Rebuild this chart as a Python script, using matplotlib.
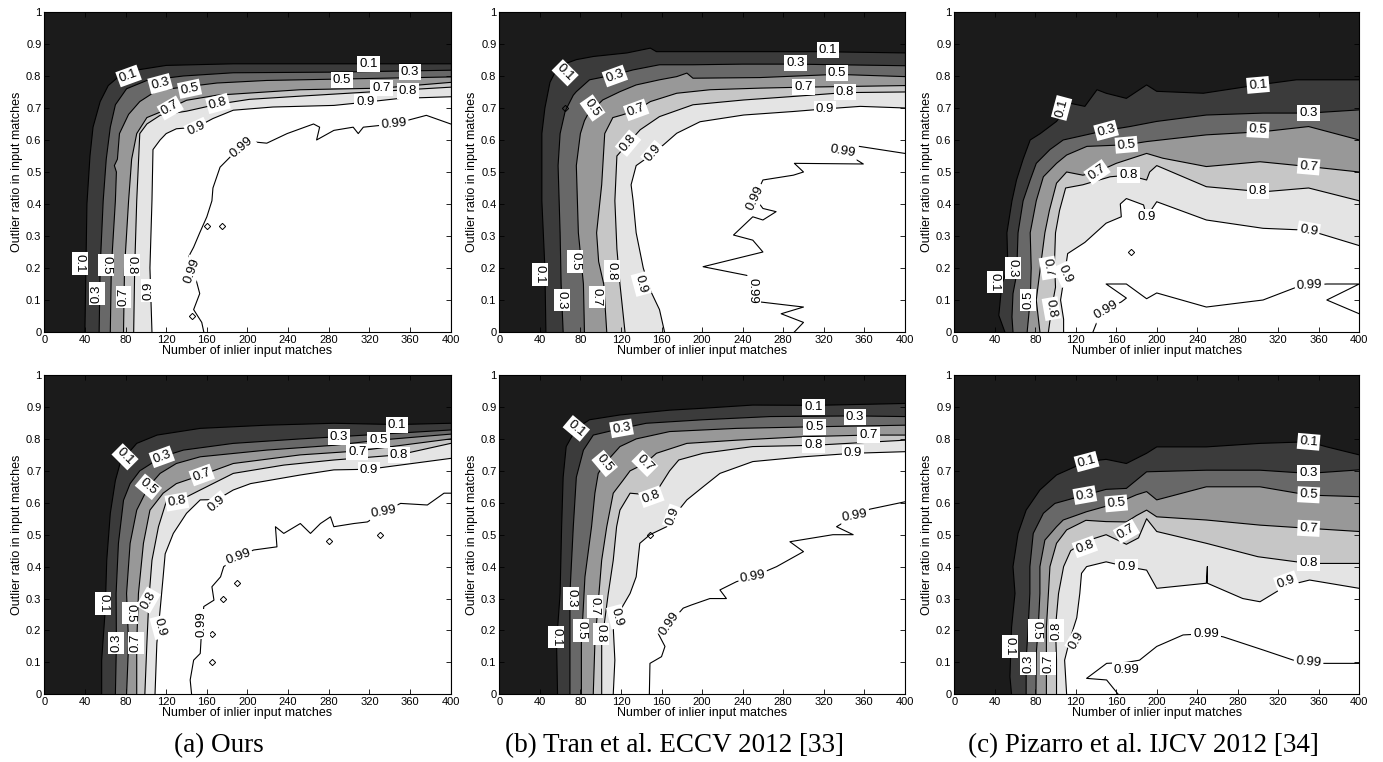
import matplotlib
matplotlib.use("Agg")
import matplotlib.pyplot as plt

# iso-lines of the success rate, read as (inliers, outlier ratio) vertices
LEVELS = [0.1, 0.3, 0.5, 0.7, 0.8, 0.9, 0.99]
SHADES = ['#1b1b1b', '#3b3b3b', '#686868', '#989898', '#c6c6c6', '#e4e4e4', '#ffffff']

ours_top = {
    0.1: [(40, 0), (41, 0.2), (42, 0.4), (45, 0.55), (48, 0.64), (55, 0.72), (63, 0.77), (74, 0.80), (94, 0.82),
          (120, 0.833), (186, 0.838), (285, 0.838), (400, 0.838)],
    0.3: [(54, 0), (55, 0.2), (58, 0.41), (61, 0.54), (65, 0.64), (70, 0.71), (81, 0.76), (101, 0.786), (137, 0.80),
          (186, 0.81), (285, 0.812), (400, 0.818)],
    0.5: [(65, 0), (66, 0.2), (70, 0.41), (71, 0.50), (69, 0.52), (72, 0.54), (74, 0.62), (83, 0.68), (94, 0.72),
          (111, 0.755), (170, 0.778), (219, 0.786), (285, 0.79), (400, 0.797)],
    0.7: [(78, 0), (79, 0.2), (83, 0.41), (86, 0.54), (91, 0.62), (101, 0.67), (124, 0.70), (140, 0.724),
          (170, 0.74), (252, 0.757), (332, 0.762), (400, 0.78)],
    0.8: [(88, 0), (89, 0.2), (91, 0.41), (94, 0.62), (101, 0.65), (114, 0.677), (140, 0.69), (171, 0.712),
          (202, 0.727), (252, 0.737), (320, 0.75), (400, 0.765)],
    0.9: [(106, 0), (104, 0.2), (106, 0.41), (107, 0.57), (114, 0.60), (120, 0.62), (130, 0.635), (150, 0.64),
          (166, 0.667), (186, 0.693), (225, 0.703), (285, 0.708), (316, 0.718), (350, 0.73), (400, 0.735)],
    0.99: [(157, 0), (155, 0.03), (147, 0.07), (153, 0.12), (148, 0.18), (142, 0.235), (147, 0.265), (153, 0.31),
           (160, 0.36), (165, 0.41), (166, 0.45), (173, 0.515), (183, 0.547), (194, 0.58), (206, 0.594),
           (219, 0.59), (239, 0.62), (265, 0.65), (271, 0.64), (268, 0.60), (285, 0.63), (304, 0.64),
           (309, 0.62), (314, 0.64), (344, 0.65), (376, 0.677), (400, 0.65)],
}
ours_top_islands = [(160, 0.33), (175, 0.33), (145, 0.05)]
ours_top_labels = [
    (0.1, 35, 0.214, -90), (0.1, 83, 0.80, 20), (0.1, 319, 0.838, 0),
    (0.3, 51.5, 0.12, 90), (0.3, 114, 0.776, 15), (0.3, 360, 0.812, 0),
    (0.5, 61, 0.21, -90), (0.5, 143, 0.76, 12), (0.5, 293, 0.787, 0),
    (0.7, 78, 0.11, 90), (0.7, 124, 0.70, 30), (0.7, 332, 0.762, 0),
    (0.8, 86, 0.21, -90), (0.8, 171, 0.714, 15), (0.8, 358, 0.752, 0),
    (0.9, 103, 0.13, 90), (0.9, 150, 0.635, 25), (0.9, 316, 0.72, 0),
    (0.99, 145, 0.19, 70), (0.99, 194, 0.578, 40), (0.99, 344, 0.65, 5),
]

tran_top = {
    0.1: [(46, 0), (45, 0.2), (42, 0.41), (42, 0.62), (45, 0.70), (50, 0.78), (58, 0.83), (76, 0.851), (93, 0.861),
          (126, 0.872), (149, 0.887), (155, 0.876), (191, 0.876), (257, 0.876), (313, 0.876), (400, 0.872)],
    0.3: [(63, 0), (61, 0.15), (60, 0.31), (58, 0.52), (60, 0.62), (65, 0.69), (73, 0.74), (76, 0.751), (89, 0.788),
          (114, 0.804), (132, 0.819), (158, 0.835), (191, 0.835), (240, 0.837), (291, 0.837), (400, 0.832)],
    0.5: [(84, 0), (83, 0.15), (78, 0.31), (76, 0.52), (80, 0.62), (84, 0.66), (89, 0.69), (94, 0.70), (102, 0.725),
          (119, 0.751), (135, 0.772), (158, 0.788), (175, 0.798), (185, 0.809), (191, 0.793), (257, 0.795),
          (333, 0.805), (400, 0.798)],
    0.7: [(106, 0), (103, 0.15), (98, 0.22), (96, 0.31), (101, 0.46), (104, 0.62), (112, 0.67), (121, 0.678),
          (136, 0.694), (149, 0.72), (175, 0.746), (208, 0.757), (257, 0.762), (300, 0.765), (400, 0.77)],
    0.8: [(124, 0), (119, 0.15), (116, 0.26), (114, 0.41), (116, 0.55), (127, 0.59), (139, 0.632), (158, 0.673),
          (191, 0.71), (241, 0.725), (290, 0.736), (341, 0.748), (400, 0.75)],
    0.9: [(163, 0), (158, 0.07), (149, 0.13), (142, 0.2), (135, 0.31), (132, 0.41), (130, 0.46), (135, 0.52),
          (152, 0.558), (162, 0.585), (175, 0.621), (198, 0.657), (241, 0.678), (290, 0.689), (321, 0.697),
          (356, 0.705), (400, 0.70)],
    0.99: [(291, 0), (300, 0.03), (278, 0.057), (300, 0.078), (257, 0.094), (250, 0.13), (244, 0.177), (201, 0.204),
           (260, 0.25), (250, 0.287), (231, 0.303), (250, 0.36), (260, 0.35), (273, 0.376), (260, 0.386),
           (252, 0.42), (260, 0.475), (290, 0.49), (300, 0.50), (291, 0.527), (359, 0.525), (339, 0.564),
           (355, 0.58), (400, 0.558)],
}
tran_top_islands = [(65, 0.70)]
tran_top_labels = [
    (0.1, 40, 0.18, -90), (0.1, 65, 0.81, -45), (0.1, 324, 0.882, 0),
    (0.3, 61.5, 0.10, -90), (0.3, 114, 0.80, 20), (0.3, 292, 0.84, 0),
    (0.5, 75, 0.22, -90), (0.5, 92, 0.70, -55), (0.5, 333, 0.81, 0),
    (0.7, 96, 0.11, -90), (0.7, 135, 0.694, 20), (0.7, 300, 0.765, 0),
    (0.8, 111, 0.19, -90), (0.8, 127, 0.59, 50), (0.8, 341, 0.75, 0),
    (0.9, 140, 0.15, -75), (0.9, 152, 0.558, 50), (0.9, 321, 0.696, 0),
    (0.99, 250, 0.13, -90), (0.99, 252, 0.42, 65), (0.99, 339, 0.564, -10),
]

pizarro_top = {
    0.1: [(50, 0), (44, 0.052), (47, 0.15), (53, 0.20), (52, 0.31), (57, 0.41), (61.5, 0.475), (68, 0.54), (75, 0.60),
          (85, 0.62), (101, 0.658), (114, 0.715), (129, 0.705), (141, 0.757), (150, 0.746), (170, 0.73),
          (190, 0.772), (200, 0.752), (246, 0.746), (300, 0.772), (338, 0.788), (400, 0.788)],
    0.3: [(58, 0), (57, 0.047), (58, 0.12), (61.6, 0.18), (63, 0.31), (68, 0.41), (75, 0.475), (81, 0.527),
          (94.5, 0.57), (107.6, 0.60), (150, 0.63), (173.5, 0.642), (200, 0.658), (249, 0.678), (305, 0.684),
          (350, 0.684), (400, 0.694)],
    0.5: [(72, 0), (75, 0.10), (76, 0.20), (75, 0.31), (81, 0.41), (88, 0.485), (101, 0.527), (111, 0.553),
          (131, 0.58), (170, 0.585), (190, 0.595), (249, 0.616), (305, 0.626), (350, 0.642), (400, 0.60)],
    0.7: [(84.6, 0), (81, 0.1), (85, 0.2), (89.5, 0.31), (94, 0.38), (101, 0.465), (111, 0.50), (127, 0.49),
          (141, 0.50), (160, 0.527), (190, 0.558), (206, 0.543), (249, 0.517), (302, 0.532), (350, 0.517),
          (400, 0.50)],
    0.8: [(93, 0), (96, 0.07), (100, 0.14), (99, 0.22), (100, 0.31), (104, 0.38), (110, 0.45), (127, 0.46),
          (154, 0.485), (172, 0.49), (190, 0.475), (193, 0.50), (200, 0.52), (249, 0.454), (305, 0.438),
          (350, 0.45), (400, 0.41)],
    0.9: [(108, 0), (108, 0.04), (105, 0.1), (109, 0.18), (112, 0.245), (129, 0.28), (150, 0.34), (165, 0.36),
          (164, 0.40), (170, 0.417), (187, 0.397), (190, 0.36), (200, 0.407), (249, 0.35), (305, 0.324),
          (350, 0.318), (400, 0.27)],
    0.99: [(137, 0), (142, 0.04), (150, 0.07), (165, 0.094), (170, 0.106), (150, 0.15), (170, 0.15), (190, 0.104),
           (200, 0.122), (249, 0.078), (305, 0.10), (338, 0.14), (351, 0.146), (368, 0.15), (400, 0.15),
           (368, 0.10), (400, 0.057)],
}
pizarro_top_islands = [(175, 0.25)]
pizarro_top_labels = [
    (0.1, 40, 0.157, -90), (0.1, 106, 0.70, 75), (0.1, 300, 0.772, 5),
    (0.3, 58, 0.20, -90), (0.3, 150, 0.63, 15), (0.3, 350, 0.684, 0),
    (0.5, 73, 0.10, 90), (0.5, 170, 0.585, 5), (0.5, 300, 0.632, -3),
    (0.7, 93, 0.20, -80), (0.7, 141, 0.50, 35), (0.7, 350, 0.517, -5),
    (0.8, 96, 0.073, -80), (0.8, 172, 0.49, 0), (0.8, 300, 0.44, 0),
    (0.9, 109, 0.18, -65), (0.9, 190, 0.36, 0), (0.9, 350, 0.318, -10),
    (0.99, 150, 0.068, 30), (0.99, 351, 0.146, 3),
]

ours_bot = {
    0.1: [(56.5, 0), (56.5, 0.107), (60, 0.264), (61.5, 0.42), (65, 0.567), (70, 0.67), (74.6, 0.723),
          (79.5, 0.744), (91, 0.786), (111, 0.812), (153.5, 0.833), (219, 0.843), (285, 0.849), (347, 0.845),
          (400, 0.849)],
    0.3: [(70, 0), (71, 0.16), (70.7, 0.316), (73, 0.473), (78, 0.608), (84.5, 0.66), (94, 0.70), (115.7, 0.744),
          (137, 0.765), (186, 0.786), (252, 0.80), (290, 0.807), (400, 0.828)],
    0.5: [(81, 0), (83, 0.16), (81, 0.316), (84.5, 0.473), (91, 0.577), (102.5, 0.65), (114, 0.692), (130, 0.723),
          (153.5, 0.744), (219, 0.765), (285, 0.78), (329, 0.796), (400, 0.815)],
    0.7: [(91, 0), (91, 0.16), (92.7, 0.316), (97.6, 0.473), (104, 0.577), (117, 0.63), (130, 0.66), (155, 0.687),
          (186, 0.723), (252, 0.75), (308, 0.762), (400, 0.80)],
    0.8: [(99, 0), (101, 0.16), (103, 0.3), (106, 0.42), (112.4, 0.525), (120.6, 0.609), (130.5, 0.603),
          (153.5, 0.64), (186, 0.692), (235.7, 0.718), (285, 0.734), (349, 0.75), (400, 0.786)],
    0.9: [(109, 0), (110.8, 0.16), (114, 0.264), (117, 0.368), (119, 0.44), (127, 0.504), (140, 0.567),
          (153.5, 0.609), (170, 0.61), (186, 0.64), (203, 0.66), (252, 0.687), (285, 0.703), (319.5, 0.705),
          (400, 0.739)],
    0.99: [(145, 0), (143.6, 0.045), (147, 0.107), (153.5, 0.128), (155, 0.21), (157, 0.275), (167, 0.295),
           (165, 0.337), (173.5, 0.368), (176.6, 0.40), (191, 0.43), (206, 0.452), (229, 0.462), (227.5, 0.525),
           (235.7, 0.504), (252, 0.535), (262, 0.504), (271.8, 0.535), (281.7, 0.556), (285, 0.525),
           (304.7, 0.535), (318, 0.54), (334, 0.572), (350.7, 0.598), (377, 0.593), (393.4, 0.63), (400, 0.63)],
}
ours_bot_islands = [(280, 0.48), (330, 0.50), (190, 0.35), (165, 0.10), (165, 0.19), (176, 0.30)]
ours_bot_labels = [
    (0.1, 58, 0.285, -90), (0.1, 79.5, 0.744, -45), (0.1, 347, 0.843, 0),
    (0.3, 70.7, 0.16, 90), (0.3, 115.7, 0.744, 20), (0.3, 290, 0.807, 0),
    (0.5, 84.5, 0.254, -90), (0.5, 102.5, 0.65, -40), (0.5, 329, 0.796, 0),
    (0.7, 90, 0.16, 90), (0.7, 155, 0.687, 20), (0.7, 308, 0.76, 0),
    (0.8, 102.5, 0.295, 60), (0.8, 130.5, 0.603, 10), (0.8, 349, 0.75, 0),
    (0.9, 114, 0.21, -75), (0.9, 170, 0.598, 40), (0.9, 319.5, 0.703, 0),
    (0.99, 155, 0.22, 90), (0.99, 191, 0.43, 20), (0.99, 334, 0.572, 10),
]

tran_bot = {
    0.1: [(57.5, 0), (56.5, 0.16), (60, 0.316), (61.5, 0.525), (63, 0.68), (66, 0.776), (76, 0.833), (89, 0.86),
          (119, 0.875), (168, 0.89), (201, 0.896), (250, 0.906), (310, 0.905), (400, 0.911)],
    0.3: [(69.7, 0), (69.7, 0.16), (69.7, 0.316), (73, 0.525), (76, 0.68), (83, 0.765), (92.7, 0.812),
          (120.6, 0.833), (145, 0.849), (201, 0.86), (267, 0.87), (351, 0.872), (400, 0.87)],
    0.5: [(81, 0), (81, 0.16), (84.5, 0.368), (91, 0.525), (94.3, 0.63), (97.6, 0.692), (104, 0.723), (119, 0.776),
          (135, 0.80), (168, 0.823), (234, 0.833), (311, 0.838), (400, 0.843)],
    0.7: [(92.7, 0), (94.3, 0.16), (101, 0.42), (106, 0.525), (112.4, 0.63), (122, 0.67), (129, 0.70),
          (143.6, 0.723), (155, 0.755), (185, 0.786), (234, 0.796), (300, 0.807), (364, 0.812), (400, 0.812)],
    0.8: [(101, 0), (101, 0.16), (107.5, 0.316), (112.4, 0.42), (115.7, 0.525), (119, 0.577), (129, 0.63),
          (150, 0.624), (158, 0.65), (168, 0.70), (177, 0.734), (201, 0.755), (250, 0.776), (310, 0.78),
          (400, 0.796)],
    0.9: [(112.4, 0), (114, 0.107), (112.4, 0.21), (115.7, 0.243), (129, 0.316), (135, 0.368), (138.6, 0.473),
          (148.6, 0.50), (165, 0.525), (171.6, 0.556), (185, 0.609), (201, 0.65), (217.6, 0.692), (250, 0.729),
          (300, 0.744), (349, 0.755), (400, 0.76)],
    0.99: [(148, 0), (148.6, 0.097), (160, 0.118), (163.4, 0.15), (156.8, 0.19), (168, 0.222), (181.4, 0.27),
           (189.6, 0.28), (207.7, 0.30), (224, 0.30), (217.6, 0.327), (234, 0.353), (250, 0.368), (273.5, 0.40),
           (300, 0.447), (286.6, 0.478), (329, 0.50), (349, 0.50), (332.6, 0.525), (350.7, 0.56), (365.5, 0.58),
           (400, 0.603)],
}
tran_bot_islands = [(148.6, 0.50)]
tran_bot_labels = [
    (0.1, 56, 0.18, -90), (0.1, 76, 0.833, -40), (0.1, 310, 0.90, 0),
    (0.3, 71, 0.30, -90), (0.3, 120.6, 0.833, 10), (0.3, 350.7, 0.87, 0),
    (0.5, 81, 0.20, -90), (0.5, 104, 0.723, -50), (0.5, 311, 0.838, 0),
    (0.7, 94.3, 0.275, -90), (0.7, 143.6, 0.723, -45), (0.7, 364, 0.812, 0),
    (0.8, 100, 0.19, -90), (0.8, 150, 0.619, 20), (0.8, 310, 0.78, 0),
    (0.9, 115.7, 0.243, -75), (0.9, 171.6, 0.556, 70), (0.9, 349, 0.755, 0),
    (0.99, 168, 0.222, 55), (0.99, 250, 0.368, 10), (0.99, 350.7, 0.56, 10),
]

pizarro_bot = {
    0.1: [(56.6, 0), (55, 0.055), (56.6, 0.21), (60, 0.316), (58, 0.40), (63, 0.504), (71, 0.577), (84.6, 0.64),
          (101, 0.687), (130.7, 0.729), (150, 0.736), (170, 0.723), (190, 0.755), (200, 0.775), (249, 0.775),
          (302, 0.786), (350, 0.791), (368, 0.775), (400, 0.75)],
    0.3: [(71, 0), (71, 0.107), (73, 0.21), (74.7, 0.316), (74.7, 0.40), (78, 0.504), (88, 0.567), (99.4, 0.598),
          (129, 0.624), (150, 0.642), (170, 0.645), (190, 0.697), (249, 0.702), (302, 0.702), (350, 0.692),
          (400, 0.703)],
    0.5: [(80.7, 0), (81, 0.128), (83, 0.21), (84.6, 0.316), (84.6, 0.40), (89.5, 0.483), (101, 0.525),
          (107.6, 0.546), (130.7, 0.572), (160, 0.598), (180, 0.625), (190, 0.635), (200, 0.609), (249, 0.65),
          (302, 0.65), (350, 0.624), (400, 0.619)],
    0.7: [(91, 0), (91, 0.107), (91, 0.21), (93, 0.316), (94.5, 0.40), (101, 0.473), (111, 0.515), (130, 0.545),
          (150, 0.541), (170, 0.54), (180, 0.56), (190, 0.577), (200, 0.556), (249, 0.546), (302, 0.53),
          (350, 0.52), (400, 0.51)],
    0.8: [(101, 0), (101, 0.107), (100, 0.21), (103, 0.316), (108, 0.40), (115, 0.45), (130, 0.48), (150, 0.50),
          (170, 0.47), (182, 0.49), (190, 0.55), (200, 0.51), (249, 0.473), (300, 0.431), (350, 0.41),
          (400, 0.41)],
    0.9: [(111, 0), (109, 0.107), (114, 0.17), (121, 0.24), (124, 0.316), (125.7, 0.379), (130.7, 0.40),
          (150, 0.415), (170, 0.40), (190, 0.389), (200, 0.332), (249, 0.348), (250, 0.40), (250, 0.348),
          (285, 0.30), (302, 0.29), (328, 0.34), (351, 0.358), (400, 0.332)],
    0.99: [(162, 0), (150.5, 0.045), (130.7, 0.05), (150.5, 0.097), (170, 0.10), (183, 0.107), (200, 0.15),
           (226, 0.186), (249, 0.19), (265.7, 0.18), (305, 0.139), (335, 0.107), (350, 0.10), (364, 0.097),
           (400, 0.097)],
}
pizarro_bot_islands = []
pizarro_bot_labels = [
    (0.1, 55, 0.15, -90), (0.1, 130.7, 0.729, 15), (0.1, 350, 0.791, -5),
    (0.3, 73, 0.097, 90), (0.3, 129, 0.624, 10), (0.3, 350, 0.692, 0),
    (0.5, 81, 0.20, -90), (0.5, 160, 0.598, 5), (0.5, 350, 0.625, -3),
    (0.7, 93, 0.097, 90), (0.7, 170, 0.51, 30), (0.7, 350, 0.52, -3),
    (0.8, 101, 0.20, 90), (0.8, 129, 0.462, 20), (0.8, 350, 0.41, 0),
    (0.9, 121, 0.17, 60), (0.9, 170, 0.40, 0), (0.9, 328, 0.353, 20),
    (0.99, 170, 0.076, 0), (0.99, 249, 0.19, 0), (0.99, 350, 0.102, -5),
]

captions = ['(a) Ours', '(b) Tran et al. ECCV 2012 [33]', '(c) Pizarro et al. IJCV 2012 [34]']
x_ticks = list(range(0, 401, 40))
y_ticks = [0, 0.1, 0.2, 0.3, 0.4, 0.5, 0.6, 0.7, 0.8, 0.9, 1]

SANS = 'Liberation Sans'
SERIF = 'Liberation Serif'


def draw_panel(ax, curves, islands, labels):
    ax.set_facecolor(SHADES[0])
    # filled bands: region right/below each iso-line, lighter for higher levels
    for i, lev in enumerate(LEVELS[:-1]):
        pts = curves[lev]
        xs = [p[0] for p in pts] + [400]
        ys = [p[1] for p in pts] + [0]
        ax.fill(xs, ys, color=SHADES[i + 1], lw=0, zorder=1)
    for lev in LEVELS:
        pts = curves[lev]
        ax.plot([p[0] for p in pts], [p[1] for p in pts], color='k', lw=0.8, zorder=2)
    if islands:
        ax.plot([p[0] for p in islands], [p[1] for p in islands], ls='none', marker='D', ms=3.2,
                mfc='none', mec='k', mew=0.7, zorder=2)
    for lev, x, y, rot in labels:
        ax.text(x, y, f'{lev:g}', fontsize=9.5, family=SANS, rotation=rot, ha='center', va='center',
                rotation_mode='anchor', zorder=4,
                bbox=dict(boxstyle='square,pad=0.15', fc='white', ec='none'))
    ax.set_xlim(0, 400)
    ax.set_ylim(0, 1)
    ax.set_xticks(x_ticks)
    ax.set_xticklabels([str(v) for v in x_ticks])
    ax.set_yticks(y_ticks)
    ax.set_yticklabels([f'{v:g}' for v in y_ticks])
    ax.tick_params(direction='in', top=True, right=True, length=3.5, width=0.6, labelsize=8, pad=2)
    for lab in ax.get_xticklabels() + ax.get_yticklabels():
        lab.set_family(SANS)
    for s in ax.spines.values():
        s.set_linewidth(0.8)
        s.set_zorder(5)
    ax.set_xlabel('Number of inlier input matches', fontsize=9, family=SANS, labelpad=0)
    ax.set_ylabel('Outlier ratio in input matches', fontsize=9, family=SANS, labelpad=2)


fig = plt.figure(figsize=(13.83, 7.62), dpi=100)
lefts = [0.032, 0.361, 0.690]
widths = [0.2939, 0.2933, 0.2928]
rows = [(0.5643, 0.42), (0.0888, 0.419)]
caption_x = [0.158, 0.488, 0.827]

panels = [
    [(ours_top, ours_top_islands, ours_top_labels),
     (tran_top, tran_top_islands, tran_top_labels),
     (pizarro_top, pizarro_top_islands, pizarro_top_labels)],
    [(ours_bot, ours_bot_islands, ours_bot_labels),
     (tran_bot, tran_bot_islands, tran_bot_labels),
     (pizarro_bot, pizarro_bot_islands, pizarro_bot_labels)],
]

for r, (bottom, height) in enumerate(rows):
    for c in range(3):
        ax = fig.add_axes([lefts[c], bottom, widths[c], height])
        draw_panel(ax, *panels[r][c])

for c, cap in enumerate(captions):
    fig.text(caption_x[c], 0.021, cap, fontsize=19.5, family=SERIF, ha='center', va='center')

fig.savefig('out.png', dpi=100)
